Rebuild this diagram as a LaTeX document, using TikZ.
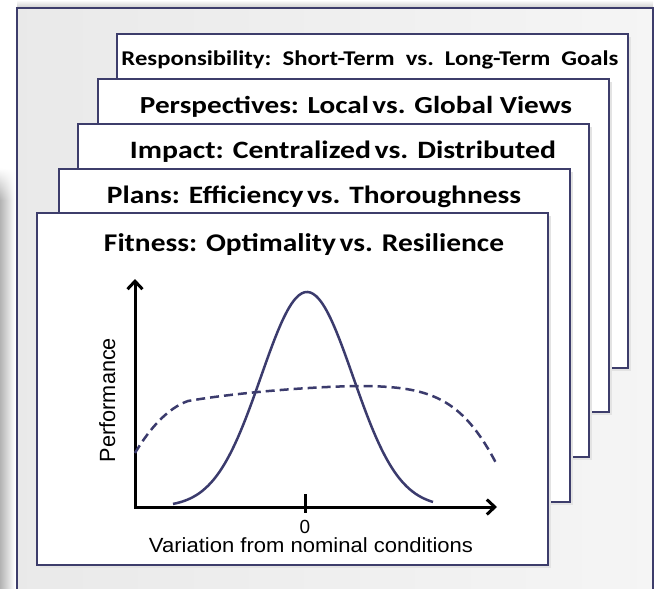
\documentclass[tikz,border=0pt]{standalone}
\usepackage{graphicx}
\usepackage{fontspec}
\setmainfont{Carlito}
\newfontfamily\arialf{Liberation Sans}
\usetikzlibrary{arrows.meta,fadings}
\definecolor{navy}{HTML}{3D3D6B}
\definecolor{curvecol}{HTML}{3B3B6D}
% width-fit at a given font size (horizontal scaling only)
\newcommand\fitx[3]{\resizebox{#1}{\height}{\fontsize{#2}{#2}\selectfont #3}}
\newcommand\tsp{\hspace{0.12em}}
\tikzset{
  card/.style={fill=white, draw=navy, line width=1.3pt},
  cardshadow/.style={fill=gray!22},
  title/.style={anchor=base, inner sep=0pt, font=\bfseries},
  axis/.style={line width=3pt, line join=miter, {Straight Barb[length=8pt,width=15pt,line width=3pt]}-{Straight Barb[length=8pt,width=15pt,line width=3pt]}},
  curvestyle/.style={draw=curvecol, line width=2.5pt},
  plotlabel/.style={anchor=base, inner sep=0pt, font=\arialf}
}
\begin{document}
\begin{tikzpicture}[x=1pt,y=-1pt]
\useasboundingbox (0,0) rectangle (656,589);
% left shadow strip
\shade[left color=gray!60, right color=white] (0,200) rectangle (15,589);
\shade[left color=gray!60, right color=white, path fading=north] (0,168) rectangle (15,200.5);
% top soft shadow
\shade[top color=white, bottom color=gray!35] (17,0) rectangle (653,7);
% frame
\shade[left color=gray!17, right color=gray!8] (17,8) rectangle (653,600);
\draw[navy, line width=2.5pt] (17,600) -- (17,8) -- (653,8) -- (653,600);
% cards (back to front)
\foreach \l/\t/\r/\b in {117/34/628/368, 98/79/609/412, 78/124/589/457, 59/169/570/502, 37/213/548/565}{
  \fill[cardshadow] (\l+3,\t+3) rectangle (\r+3,\b+3);
  \draw[card] (\l,\t) rectangle (\r,\b);
}
% titles
\node[title] (t1) at (370,65) {\fitx{497pt}{21}{Responsibility:\ \ Short-Term\ \ vs.\ \ Long-Term\ \ Goals}};
\node[title] (t2) at (356,113) {\fitx{432pt}{24.5}{Perspectives: Local\tsp vs. Global Views}};
\node[title] (t3) at (343,158.5) {\fitx{426pt}{25}{Impact: Centralized\tsp vs. Distributed}};
\node[title] (t4) at (314,203.5) {\fitx{414pt}{25}{Plans: Efficiency\tsp vs. Thoroughness}};
\node[title] (t5) at (304,251.5) {\fitx{400pt}{25.5}{Fitness: Optimality\tsp vs. Resilience}};
% axes
\coordinate (O) at (135,507);
\coordinate (Ytip) at (135,279);
\coordinate (Xtip) at (497,507);
\coordinate (tickA) at (305,494);
\coordinate (tickB) at (305,513);
\draw[axis] (Ytip) -- (O) -- (Xtip);
\draw[line width=3pt] (tickA) -- (tickB);
% bell curve
\draw[curvestyle, domain=173:433, samples=90, smooth] plot (\x, {507-215*exp(-0.5*((\x-307)/46)*((\x-307)/46))});
% dashed curve
\coordinate (d0) at (135,453);
\coordinate (d1) at (188,401);
\coordinate (d2) at (365,386);
\coordinate (d3) at (496,463);
\draw[curvestyle, dash pattern=on 9pt off 5pt] (d0) .. controls (150,428) and (168,408) .. (d1) .. controls (240,392) and (320,386) .. (d2) .. controls (430,387) and (462,398) .. (d3);
% labels
\node[plotlabel] (zero) at (305,533) {\fontsize{19}{19}\selectfont 0};
\node[plotlabel] (xlab) at (311,552.5) {\fitx{324pt}{20.5}{Variation from nominal conditions}};
\node[plotlabel, rotate=90] (ylab) at (115,400) {\fitx{124pt}{22}{Performance}};
\end{tikzpicture}
\end{document}
